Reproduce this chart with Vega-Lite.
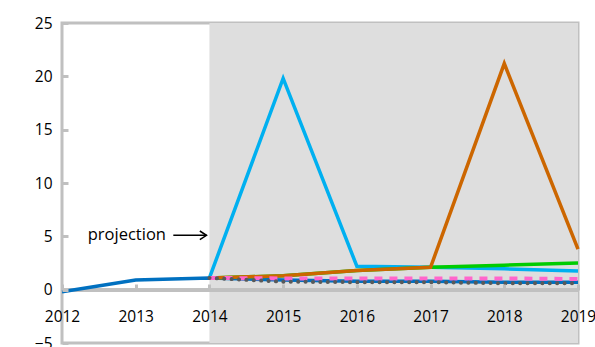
{
  "$schema": "https://vega.github.io/schema/vega-lite/v6.json",
  "autosize": "none",
  "width": 516,
  "height": 320,
  "padding": {"left": 62, "top": 23, "right": 17, "bottom": 4},
  "background": "white",
  "config": {
    "view": {"stroke": "#c0c0c0", "strokeWidth": 3},
    "font": "Open Sans"
  },
  "datasets": {
    "series": [
      {"series": "blue", "year": 2012, "value": -0.2},
      {"series": "blue", "year": 2013, "value": 0.9},
      {"series": "blue", "year": 2014, "value": 1.1},
      {"series": "blue", "year": 2015, "value": 0.9},
      {"series": "blue", "year": 2016, "value": 0.8},
      {"series": "blue", "year": 2017, "value": 0.8},
      {"series": "blue", "year": 2018, "value": 0.7},
      {"series": "blue", "year": 2019, "value": 0.7},
      {"series": "cyan", "year": 2014, "value": 1.1},
      {"series": "cyan", "year": 2015, "value": 19.8},
      {"series": "cyan", "year": 2016, "value": 2.2},
      {"series": "cyan", "year": 2017, "value": 2.1},
      {"series": "cyan", "year": 2018, "value": 1.95},
      {"series": "cyan", "year": 2019, "value": 1.75},
      {"series": "green", "year": 2014, "value": 1.1},
      {"series": "green", "year": 2015, "value": 1.3},
      {"series": "green", "year": 2016, "value": 1.8},
      {"series": "green", "year": 2017, "value": 2.1},
      {"series": "green", "year": 2018, "value": 2.3},
      {"series": "green", "year": 2019, "value": 2.5},
      {"series": "orange", "year": 2014, "value": 1.1},
      {"series": "orange", "year": 2015, "value": 1.3},
      {"series": "orange", "year": 2016, "value": 1.8},
      {"series": "orange", "year": 2017, "value": 2.1},
      {"series": "orange", "year": 2018, "value": 21.2},
      {"series": "orange", "year": 2019, "value": 3.8},
      {"series": "pink", "year": 2014, "value": 1.1},
      {"series": "pink", "year": 2015, "value": 1.05},
      {"series": "pink", "year": 2016, "value": 1.05},
      {"series": "pink", "year": 2017, "value": 1.05},
      {"series": "pink", "year": 2018, "value": 1.05},
      {"series": "pink", "year": 2019, "value": 1.0},
      {"series": "gray", "year": 2014, "value": 1.1},
      {"series": "gray", "year": 2015, "value": 0.75},
      {"series": "gray", "year": 2016, "value": 0.7},
      {"series": "gray", "year": 2017, "value": 0.7},
      {"series": "gray", "year": 2018, "value": 0.6},
      {"series": "gray", "year": 2019, "value": 0.6}
    ],
    "shade": [{"start": 2014, "end": 2019}],
    "label": [{"text": "projection", "year": 2013.41, "value": 5.1}],
    "arrow": [{"x1": 2013.51, "x2": 2013.96, "value": 5.1}],
    "head": [
      {"ord": 1, "year": 2013.87, "value": 5.5},
      {"ord": 2, "year": 2013.96, "value": 5.1},
      {"ord": 3, "year": 2013.87, "value": 4.7}
    ]
  },
  "layer": [
    {
      "data": {"name": "shade"},
      "mark": {"type": "rect", "color": "#dedede"},
      "encoding": {
        "x": {"field": "start", "type": "quantitative", "scale": {"domain": [2012, 2019], "nice": false},
          "axis": {"values": [2012, 2013, 2014, 2015, 2016, 2017, 2018, 2019], "format": "d", "title": null, "grid": false,
            "offset": -53, "domain": false, "tickColor": "#c0c0c0", "tickWidth": 3, "tickSize": -6, "zindex": 1,
            "labelFont": "Open Sans", "labelFontSize": 15.5, "labelColor": "#000000", "labelPadding": 25, "labelFlush": false}},
        "x2": {"field": "end"}
      }
    },
    {
      "data": {"name": "series"},
      "mark": {"type": "rule", "color": "#c0c0c0", "strokeWidth": 3},
      "encoding": {"y": {"datum": 0, "type": "quantitative"}}
    },
    {
      "data": {"name": "series"},
      "transform": [{"filter": "datum.series === 'blue' || datum.series === 'cyan' || datum.series === 'green' || datum.series === 'orange'"}],
      "mark": {"type": "line", "strokeWidth": 3.5, "strokeJoin": "miter"},
      "encoding": {
        "x": {"field": "year", "type": "quantitative"},
        "y": {"field": "value", "type": "quantitative",
          "scale": {"domain": [-5, 25], "nice": false, "zero": false},
          "axis": {"values": [-5, 0, 5, 10, 15, 20, 25], "title": null, "grid": false, "domain": false, "zindex": 1,
            "tickColor": "#c0c0c0", "tickWidth": 3, "tickSize": -6, "labelPadding": 16,
            "labelFont": "Open Sans", "labelFontSize": 15.5, "labelColor": "#000000"}},
        "color": {"field": "series", "type": "nominal",
          "scale": {"domain": ["blue", "cyan", "green", "orange"], "range": ["#0070c0", "#00b0f0", "#00cc00", "#cc6600"]},
          "legend": null},
        "order": {"field": "year", "type": "quantitative"}
      }
    },
    {
      "data": {"name": "series"},
      "transform": [{"filter": "datum.series === 'pink'"}],
      "mark": {"type": "line", "strokeWidth": 4, "color": "#ff66cc", "strokeDash": [8, 7]},
      "encoding": {
        "x": {"field": "year", "type": "quantitative"},
        "y": {"field": "value", "type": "quantitative"}
      }
    },
    {
      "data": {"name": "series"},
      "transform": [{"filter": "datum.series === 'gray'"}],
      "mark": {"type": "line", "strokeWidth": 4, "color": "#595959", "strokeDash": [0.1, 7.3], "strokeCap": "round"},
      "encoding": {
        "x": {"field": "year", "type": "quantitative"},
        "y": {"field": "value", "type": "quantitative"}
      }
    },
    {
      "data": {"name": "label"},
      "mark": {"type": "text", "align": "right", "baseline": "middle", "fontSize": 16.5, "font": "Open Sans", "color": "#000000"},
      "encoding": {
        "x": {"field": "year", "type": "quantitative"},
        "y": {"field": "value", "type": "quantitative"},
        "text": {"field": "text"}
      }
    },
    {
      "data": {"name": "arrow"},
      "mark": {"type": "rule", "color": "#000000", "strokeWidth": 1.5},
      "encoding": {
        "x": {"field": "x1", "type": "quantitative"},
        "x2": {"field": "x2"},
        "y": {"field": "value", "type": "quantitative"}
      }
    },
    {
      "data": {"name": "head"},
      "mark": {"type": "line", "color": "#000000", "strokeWidth": 1.5},
      "encoding": {
        "x": {"field": "year", "type": "quantitative"},
        "y": {"field": "value", "type": "quantitative"},
        "order": {"field": "ord", "type": "quantitative"}
      }
    }
  ]
}
